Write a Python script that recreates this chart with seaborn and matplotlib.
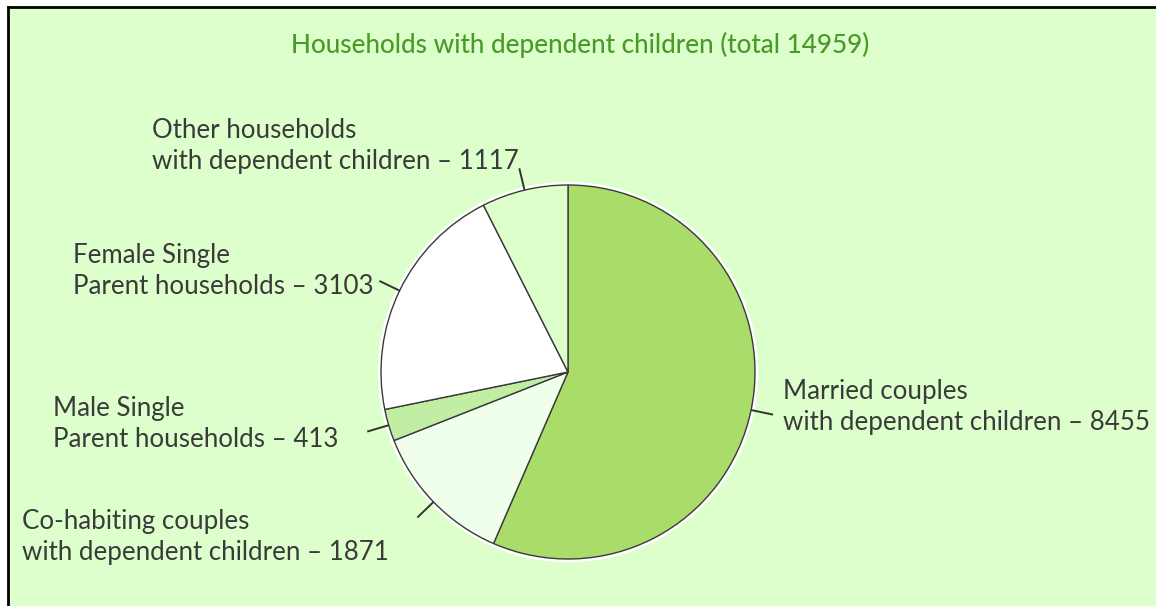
import matplotlib.pyplot as plt
import seaborn as sns
import numpy as np

categories = [
    "Married couples\nwith dependent children",
    "Co-habiting couples\nwith dependent children",
    "Male Single\nParent households",
    "Female Single\nParent households",
    "Other households\nwith dependent children",
]
counts = [8455, 1871, 413, 3103, 1117]
title = "Households with dependent children (total 14959)"

colors = ["#a9dc69", "#f0ffec", "#c2eea3", "#ffffff", "#ddffcc"]
bg = "#ddffcc"

# label anchors in image pixels (x, y from top)
label_pos = [(783, 407), (22, 537), (53, 424), (73, 271), (152, 146)]

W, H = 1156, 606
cx, cy, R = 568, 606 - 372, 187


def main():
    sns.set_style("white")
    plt.rcParams["font.family"] = ["Lato", "DejaVu Sans"]

    fig = plt.figure(figsize=(W / 100, H / 100), dpi=100)
    fig.patch.set_facecolor("white")
    ax = fig.add_axes([8 / W, 0, 1 - 8 / W, 1 - 7 / H])
    ax.set_facecolor(bg)

    # white halo behind the pie
    ax.add_patch(plt.Circle((cx, cy), R + 2.5, color="white", zorder=0))
    wedges, _ = ax.pie(counts, colors=colors, startangle=90, counterclock=False,
                       center=(cx, cy), radius=R, frame=True,
                       wedgeprops=dict(edgecolor="#3a3a3a", linewidth=1))

    ax.set_xlim(8, W)
    ax.set_ylim(0, H - 7)
    ax.set_xticks([])
    ax.set_yticks([])
    for side in ["right", "bottom"]:
        ax.spines[side].set_visible(False)
    for side in ["left", "top"]:
        ax.spines[side].set_color("black")
        ax.spines[side].set_linewidth(2)

    for w, cat, n, (px, py) in zip(wedges, categories, counts, label_pos):
        ang = np.deg2rad((w.theta1 + w.theta2) / 2)
        r0, r1 = R, R * 1.12
        ax.plot([cx + r0 * np.cos(ang), cx + r1 * np.cos(ang)],
                [cy + r0 * np.sin(ang), cy + r1 * np.sin(ang)],
                color="#333333", lw=1.4, solid_capstyle="butt")
        ax.text(px, H - py, f"{cat} \u2013 {n}", ha="left", va="center",
                fontsize=18.6, color="#3a3a3a", linespacing=1.27)

    ax.text(580, H - 45, title, ha="center", va="center", fontsize=18.8,
            color="#4a9a2a", fontweight="medium")

    plt.savefig("out.png", dpi=100, facecolor=fig.get_facecolor())


main()
